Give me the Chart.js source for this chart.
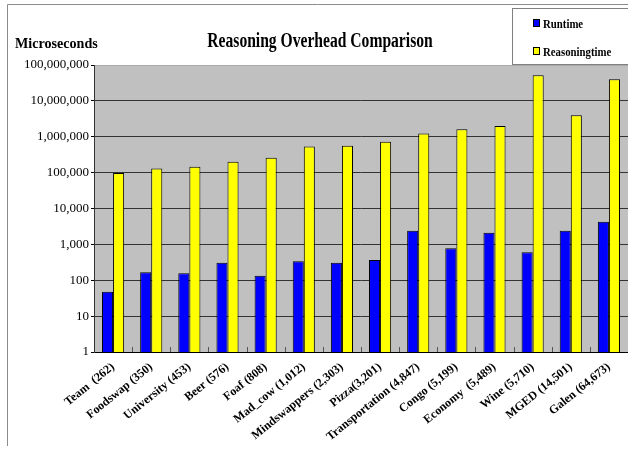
<!DOCTYPE html>
<html>
<head>
<meta charset="utf-8">
<script src="https://cdn.jsdelivr.net/npm/chart.js@4.4.0/dist/chart.umd.min.js"></script>
<style>
  html, body { margin: 0; padding: 0; background: #fff; overflow: hidden; }
  #wrap { width: 628px; height: 453px; position: relative; }
</style>
</head>
<body>
<div id="wrap"><canvas id="chart" width="628" height="453"></canvas></div>
<script>
// Data
const categories = ['Team  (262)', 'Foodswap (350)', 'University (453)', 'Beer (576)', 'Foaf (808)',
    'Mad_cow (1,012)', 'Mindswappers (2,303)', 'Pizza(3,201)', 'Transportation (4,847)', 'Congo (5,199)',
    'Economy  (5,489)', 'Wine (5,710)', 'MGED (14,501)', 'Galen (64,673)'];
const runtime = [48, 166, 156, 308, 134, 340, 308, 366, 2400, 775, 2100, 600, 2400, 4260];
const reasoningtime = [98000, 131000, 145000, 200000, 258000, 537000, 560000, 722000,
    1230000, 1620000, 2000000, 52000000, 4000000, 40000000];
const yTicks = [1, 10, 100, 1000, 10000, 100000, 1000000, 10000000, 100000000];

const SERIF = '"Liberation Serif", "Times New Roman", serif';

// draw text squeezed horizontally (the original uses a narrow face)
function narrowText(ctx, text, x, y, font, sx, align) {
    ctx.save();
    ctx.font = font;
    ctx.textAlign = align;
    ctx.translate(x, y);
    ctx.scale(sx, 1);
    ctx.fillText(text, 0, 0);
    ctx.restore();
}

// Background, frame, title, legend
const decor = {
    id: 'decor',
    beforeDraw(chart) {
        const { ctx, chartArea: a } = chart;
        ctx.save();
        ctx.fillStyle = '#c0c0c0';
        ctx.fillRect(a.left, a.top, a.right - a.left, a.bottom - a.top);
        ctx.restore();
    },
    afterDraw(chart) {
        const { ctx, chartArea: a, scales } = chart;
        ctx.save();
        // outer frame (left and top)
        ctx.strokeStyle = '#8c8c8c';
        ctx.lineWidth = 1;
        ctx.beginPath();
        ctx.moveTo(7.5, 446);
        ctx.lineTo(7.5, 4.5);
        ctx.lineTo(628, 4.5);
        ctx.stroke();

        // small category ticks pointing into the plot
        ctx.strokeStyle = '#555';
        const xs = scales.x;
        for (let i = 1; i < categories.length; i++) {
            const x = Math.round((xs.getPixelForValue(i - 1) + xs.getPixelForValue(i)) / 2) + 0.5;
            ctx.beginPath();
            ctx.moveTo(x, a.bottom);
            ctx.lineTo(x, a.bottom - 5);
            ctx.stroke();
        }

        // titles
        ctx.fillStyle = '#000';
        ctx.textBaseline = 'alphabetic';
        narrowText(ctx, 'Reasoning Overhead Comparison', 320, 47, 'bold 20px ' + SERIF, 0.78, 'center');
        narrowText(ctx, 'Microseconds', 15, 48, 'bold 15px ' + SERIF, 0.94, 'left');

        // legend
        ctx.fillStyle = '#fff';
        ctx.fillRect(512, 8, 120, 57);
        ctx.strokeStyle = '#808080';
        ctx.strokeRect(512.5, 8.5, 120, 56);
        const items = [['Runtime', '#0000ff', 19], ['Reasoningtime', '#ffff00', 47]];
        items.forEach(([label, color, y]) => {
            ctx.fillStyle = color;
            ctx.fillRect(533, y, 7, 8);
            ctx.strokeStyle = '#000';
            ctx.strokeRect(533.5, y + 0.5, 6, 7);
            ctx.fillStyle = '#000';
            narrowText(ctx, label, 543, y + 9, 'bold 13px ' + SERIF, 0.83, 'left');
        });
        ctx.restore();
    }
};

new Chart(document.getElementById('chart'), {
    type: 'bar',
    data: {
        labels: categories,
        datasets: [{
            label: 'Runtime',
            data: runtime,
            backgroundColor: '#0000ff',
            borderColor: '#000',
            borderWidth: 1,
            borderSkipped: 'bottom'
        }, {
            label: 'Reasoningtime',
            data: reasoningtime,
            backgroundColor: '#ffff00',
            borderColor: '#000',
            borderWidth: 1,
            borderSkipped: 'bottom'
        }]
    },
    options: {
        responsive: false,
        animation: false,
        devicePixelRatio: 1,
        layout: { padding: { top: 65, left: 0, right: 0, bottom: 0 } },
        datasets: { bar: { categoryPercentage: 0.58, barPercentage: 1.0 } },
        plugins: {
            legend: { display: false },
            title: { display: false },
            tooltip: { enabled: false }
        },
        scales: {
            x: {
                grid: { display: false, drawTicks: false },
                border: { display: true, color: '#000', width: 1 },
                ticks: {
                    color: '#000',
                    font: { family: SERIF, size: 12, weight: 'bold' },
                    minRotation: 39,
                    maxRotation: 39,
                    padding: 8,
                    autoSkip: false
                },
                afterFit(scale) { scale.height = 101; }
            },
            y: {
                type: 'logarithmic',
                min: 1,
                max: 100000000,
                afterBuildTicks(scale) { scale.ticks = yTicks.map(v => ({ value: v })); },
                grid: {
                    color: (c) => c.index === yTicks.length - 1 ? '#a8a8a8' : '#333',
                    lineWidth: 1,
                    drawTicks: true,
                    tickLength: 3,
                    tickColor: '#000'
                },
                border: { display: true, color: '#333', width: 1 },
                ticks: {
                    color: '#000',
                    font: { family: SERIF, size: 13 },
                    padding: 2,
                    callback: (v) => Number(v).toLocaleString('en-US')
                },
                afterFit(scale) { scale.width = 94; }
            }
        }
    },
    plugins: [decor]
});
</script>
</body>
</html>
